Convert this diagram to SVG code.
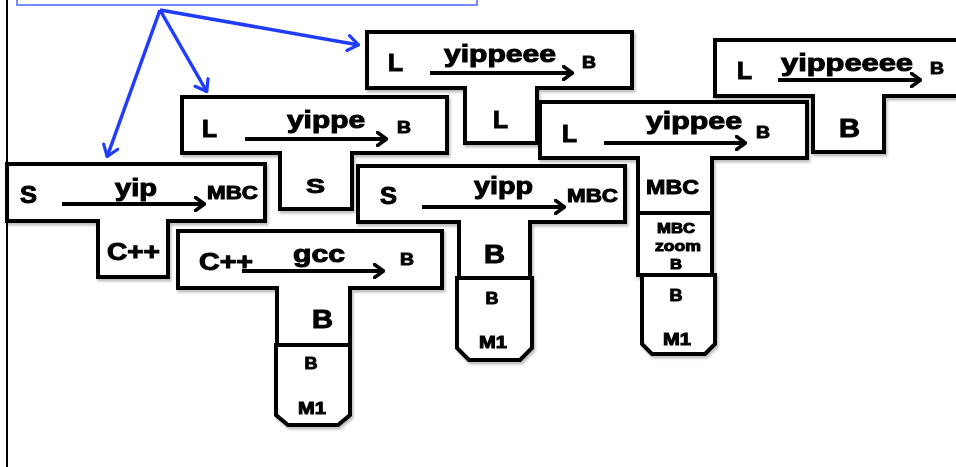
<svg xmlns="http://www.w3.org/2000/svg" width="956" height="467" viewBox="0 0 956 467">
<style>
.frame{fill:#fff;stroke:#000;stroke-width:4;stroke-linejoin:miter}
.t{font-family:"Liberation Sans",Arial,sans-serif;font-weight:bold;fill:#000;stroke:#000;stroke-width:1}
.big{font-size:23px}
.sm{font-size:17px}
.xs{font-size:14px}
.arr{stroke:#000;stroke-width:4;fill:none;marker-end:url(#ah)}
.blue{stroke:#1f3cff;stroke-width:3.5;fill:none;marker-end:url(#bh)}
</style>
<defs>
<marker id="ah" viewBox="0 0 12 16" refX="11" refY="8" markerWidth="12" markerHeight="16" markerUnits="userSpaceOnUse" orient="auto">
<path d="M1.5,1.5 L10.5,8 L1.5,14.5" fill="none" stroke="#000" stroke-width="3.5" stroke-linecap="round" stroke-linejoin="round"/>
</marker>
<marker id="bh" viewBox="0 0 14 18" refX="12.5" refY="9" markerWidth="14" markerHeight="18" markerUnits="userSpaceOnUse" orient="auto">
<path d="M1.5,1.5 L12,9 L1.5,16.5" fill="none" stroke="#1f3cff" stroke-width="3.2" stroke-linecap="round" stroke-linejoin="round"/>
</marker>
<filter id="sh" x="-5%" y="-5%" width="115%" height="115%">
<feDropShadow dx="1.5" dy="2.5" stdDeviation="1.2" flood-color="#000" flood-opacity="0.25"/>
</filter>
</defs>
<rect width="956" height="467" fill="#fff"/>
<line x1="7" y1="0" x2="7" y2="467" stroke="#000" stroke-width="2"/>
<rect id="note" x="17" y="-6" width="460" height="11" fill="#fff" stroke="#4a63ff" stroke-width="1.5"/>

<g id="t3" filter="url(#sh)">
<path class="frame" d="M367,32 H632 V88 H537 V143 H465 V88 H367 Z"/>
<text class="t big" x="388" y="71" textLength="15" lengthAdjust="spacingAndGlyphs">L</text>
<text class="t big" x="444" y="62" textLength="112" lengthAdjust="spacingAndGlyphs">yippeee</text>
<line class="arr" x1="430" y1="73" x2="573" y2="73"/>
<text class="t sm" x="582" y="68" textLength="14" lengthAdjust="spacingAndGlyphs">B</text>
<text class="t big" x="493" y="128" textLength="15" lengthAdjust="spacingAndGlyphs">L</text>
</g>

<g id="t4" filter="url(#sh)">
<path class="frame" d="M715,40 H962 V96 H884 V152 H813 V96 H715 Z"/>
<text class="t big" x="737" y="79" textLength="15" lengthAdjust="spacingAndGlyphs">L</text>
<text class="t big" x="781" y="71" textLength="132" lengthAdjust="spacingAndGlyphs">yippeeee</text>
<line class="arr" x1="778" y1="80" x2="921" y2="80"/>
<text class="t sm" x="930" y="74" textLength="14" lengthAdjust="spacingAndGlyphs">B</text>
<text class="t" x="839" y="137" font-size="26" stroke-width="1.3" textLength="21" lengthAdjust="spacingAndGlyphs">B</text>
</g>

<g id="t2" filter="url(#sh)">
<path class="frame" d="M182,97 H447 V153 H352 V209 H280 V153 H182 Z"/>
<text class="t big" x="202" y="137" textLength="15" lengthAdjust="spacingAndGlyphs">L</text>
<text class="t big" x="287" y="128" textLength="78" lengthAdjust="spacingAndGlyphs">yippe</text>
<line class="arr" x1="245" y1="139" x2="387" y2="139"/>
<text class="t sm" x="397" y="133" textLength="14" lengthAdjust="spacingAndGlyphs">B</text>
<text class="t" x="306" y="193" font-size="21" textLength="19" lengthAdjust="spacingAndGlyphs">S</text>
</g>

<g id="t5" filter="url(#sh)">
<path class="frame" d="M540,102 H807 V158 H712 V213 H638 V158 H540 Z"/>
<rect class="frame" x="638" y="213" width="74" height="62"/>
<path class="frame" d="M642,275 H715 V344 L705,354 H652 L642,344 Z"/>
<text class="t big" x="562" y="142" textLength="15" lengthAdjust="spacingAndGlyphs">L</text>
<text class="t big" x="646" y="129" textLength="96" lengthAdjust="spacingAndGlyphs">yippee</text>
<line class="arr" x1="604" y1="143" x2="746" y2="143"/>
<text class="t sm" x="756" y="138" textLength="14" lengthAdjust="spacingAndGlyphs">B</text>
<text class="t" x="646" y="194" font-size="21" stroke-width="1.3" textLength="53" lengthAdjust="spacingAndGlyphs">MBC</text>
<text class="t xs" x="676" y="233" text-anchor="middle" textLength="38" lengthAdjust="spacingAndGlyphs">MBC</text>
<text class="t xs" x="678" y="251" text-anchor="middle" textLength="46" lengthAdjust="spacingAndGlyphs">zoom</text>
<text class="t xs" x="676" y="269" text-anchor="middle" textLength="12" lengthAdjust="spacingAndGlyphs">B</text>
<text class="t sm" x="676" y="301" text-anchor="middle" textLength="13" lengthAdjust="spacingAndGlyphs">B</text>
<text class="t" x="677" y="345" font-size="17" text-anchor="middle" textLength="28" lengthAdjust="spacingAndGlyphs">M1</text>
</g>

<g id="t1" filter="url(#sh)">
<path class="frame" d="M7,164 H265 V221 H168 V277 H98 V221 H7 Z"/>
<text class="t big" x="20" y="203" textLength="17" lengthAdjust="spacingAndGlyphs">S</text>
<text class="t big" x="115" y="196" textLength="42" lengthAdjust="spacingAndGlyphs">yip</text>
<line class="arr" x1="62" y1="204" x2="205" y2="204"/>
<text class="t" x="207" y="199" font-size="18" textLength="51" lengthAdjust="spacingAndGlyphs">MBC</text>
<text class="t big" x="107" y="260" textLength="53" lengthAdjust="spacingAndGlyphs">C++</text>
</g>

<g id="t6" filter="url(#sh)">
<path class="frame" d="M358,166 H625 V222 H530 V278 H459 V222 H358 Z"/>
<path class="frame" d="M457,278 H532 V348 L520,360 H469 L457,348 Z"/>
<text class="t big" x="380" y="204" textLength="17" lengthAdjust="spacingAndGlyphs">S</text>
<text class="t big" x="474" y="194" textLength="59" lengthAdjust="spacingAndGlyphs">yipp</text>
<line class="arr" x1="422" y1="207" x2="565" y2="207"/>
<text class="t" x="567" y="202" font-size="18" textLength="51" lengthAdjust="spacingAndGlyphs">MBC</text>
<text class="t" x="484" y="263" font-size="25" stroke-width="1.6" textLength="21" lengthAdjust="spacingAndGlyphs">B</text>
<text class="t sm" x="492" y="304" text-anchor="middle" textLength="13" lengthAdjust="spacingAndGlyphs">B</text>
<text class="t" x="493" y="348" font-size="17" text-anchor="middle" textLength="28" lengthAdjust="spacingAndGlyphs">M1</text>
</g>

<g id="t7" filter="url(#sh)">
<path class="frame" d="M178,231 H442 V288 H350 V345 H277 V288 H178 Z"/>
<path class="frame" d="M276,345 H350 V415 L338,425 H288 L276,415 Z"/>
<text class="t big" x="199" y="270" textLength="54" lengthAdjust="spacingAndGlyphs">C++</text>
<text class="t big" x="293" y="262" textLength="52" lengthAdjust="spacingAndGlyphs">gcc</text>
<line class="arr" x1="242" y1="271" x2="384" y2="271"/>
<text class="t sm" x="400" y="265" textLength="14" lengthAdjust="spacingAndGlyphs">B</text>
<text class="t" x="312" y="328" font-size="25" stroke-width="1.6" textLength="21" lengthAdjust="spacingAndGlyphs">B</text>
<text class="t sm" x="311" y="369" text-anchor="middle" textLength="13" lengthAdjust="spacingAndGlyphs">B</text>
<text class="t" x="312" y="414" font-size="17" text-anchor="middle" textLength="28" lengthAdjust="spacingAndGlyphs">M1</text>
</g>

<g id="connectors">
<line class="blue" x1="160" y1="10" x2="107" y2="157"/>
<line class="blue" x1="160" y1="10" x2="207" y2="92"/>
<line class="blue" x1="160" y1="10" x2="359" y2="45"/>
</g>
</svg>
